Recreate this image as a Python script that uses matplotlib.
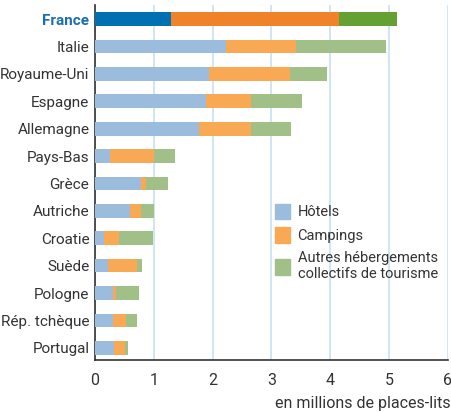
import matplotlib.pyplot as plt
import numpy as np
from matplotlib.patches import Patch

plt.rcParams['font.family'] = ['Roboto', 'DejaVu Sans']

pays = ['France', 'Italie', 'Royaume-Uni', 'Espagne', 'Allemagne', 'Pays-Bas', 'Grèce',
        'Autriche', 'Croatie', 'Suède', 'Pologne', 'Rép. tchèque', 'Portugal']
hotels = [1.29, 2.22, 1.94, 1.89, 1.77, 0.25, 0.79, 0.59, 0.15, 0.22, 0.31, 0.31, 0.32]
campings = [2.86, 1.20, 1.38, 0.77, 0.88, 0.75, 0.08, 0.19, 0.26, 0.49, 0.04, 0.22, 0.19]
autres = [0.99, 1.53, 0.63, 0.86, 0.68, 0.36, 0.37, 0.22, 0.58, 0.09, 0.40, 0.18, 0.05]

col_h = ['#0070b0'] + ['#9bbcdd'] * 12
col_c = ['#f0822a'] + ['#f9a953'] * 12
col_a = ['#64a032'] + ['#a0c088'] * 12

fig = plt.figure(figsize=(4.52, 4.12), dpi=100)
ax = fig.add_axes([0.210, 0.126, 0.781, 0.862])

y = np.arange(len(pays))
h = np.array(hotels)
c = np.array(campings)
a = np.array(autres)
ax.barh(y, h, height=0.5, color=col_h, zorder=3)
ax.barh(y, c, left=h, height=0.5, color=col_c, zorder=3)
ax.barh(y, a, left=h + c, height=0.5, color=col_a, zorder=3)

ax.set_xlim(0, 6)
ax.set_ylim(12.45, -0.52)
ax.set_yticks(y)
ax.set_yticklabels(pays, fontsize=11, color='#333333')
lab = ax.get_yticklabels()[0]
lab.set_color('#1a6fb0')
lab.set_fontweight('bold')
ax.set_xticks(range(7))
ax.tick_params(axis='x', length=0, labelsize=11.5, pad=9, colors='#333333')
ax.tick_params(axis='y', length=0, pad=4)
ax.grid(axis='x', color='#c8e2f4', linewidth=1.2, zorder=0)
for s in ['top', 'right']:
    ax.spines[s].set_visible(False)
for s in ['left', 'bottom']:
    ax.spines[s].set_color('#333333')
    ax.spines[s].set_linewidth(1.2)

fig.text(0.997, 0.003, 'en millions de places-lits', ha='right', va='bottom', fontsize=11.5, color='#333333')

# legende
handles = [Patch(color='#9bbcdd'), Patch(color='#f9a953'), Patch(color='#a0c088')]
labels = ['Hôtels', 'Campings', 'Autres hébergements\ncollectifs de tourisme']
leg = ax.legend(handles, labels, loc='upper left', bbox_to_anchor=(0.51, 0.44), frameon=False,
                borderpad=0, borderaxespad=0,
                fontsize=10.5, handlelength=1.05, handleheight=1.25, handletextpad=0.5,
                labelspacing=0.55, labelcolor='#333333')
plt.savefig('out.png', dpi=100)
